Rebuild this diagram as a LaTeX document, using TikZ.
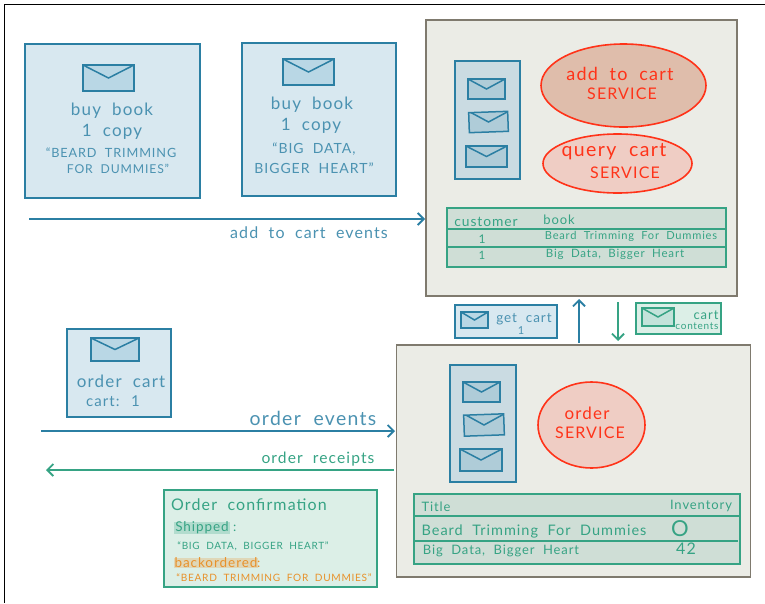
\documentclass[tikz,border=0pt]{standalone}
\usepackage{fontspec}
\setmainfont[LetterSpace=7,WordSpace=2]{Lato}
\usetikzlibrary{arrows.meta,shapes.geometric}

\definecolor{evblue}{HTML}{2B7FA3}
\definecolor{evbluefill}{HTML}{D8E8F0}
\definecolor{envfill}{HTML}{B9D7E5}
\definecolor{queuefill}{HTML}{CADBE2}
\definecolor{queueenv}{HTML}{AFCCD8}
\definecolor{evgreen}{HTML}{36A384}
\definecolor{greenfill}{HTML}{DCEFE7}
\definecolor{tablefill}{HTML}{CFDED6}
\definecolor{svcline}{HTML}{7F7A6E}
\definecolor{svcfill}{HTML}{EBECE6}
\definecolor{svcred}{HTML}{FF3319}
\definecolor{redfill}{HTML}{EFCDC4}
\definecolor{reddark}{HTML}{DFBDAB}
\definecolor{backorder}{HTML}{E8912A}

\tikzset{
  sized/.style n args={2}{minimum width=#1pt,minimum height=#2pt,inner sep=0pt},
  event/.style={draw=evblue,fill=evbluefill,line width=1.6pt},
  envelope/.style={draw=#1,fill=envfill,line width=1.5pt,
    path picture={\draw[#1,line width=1.5pt]
      (path picture bounding box.north west)
      -- (path picture bounding box.center)
      -- (path picture bounding box.north east);}},
  envelope/.default=evblue,
  queue/.style={draw=evblue,fill=queuefill,line width=1.4pt},
  service/.style={draw=svcline,fill=svcfill,line width=1.8pt},
  process/.style={ellipse,draw=svcred,line width=1.6pt,inner sep=0pt},
  store/.style={draw=evgreen,fill=tablefill,line width=1.4pt},
  lb/.style={text=evblue!85!white,inner sep=0pt},
  lg/.style={text=evgreen,inner sep=0pt},
  lr/.style={text=svcred,inner sep=0pt},
  blueflow/.style={draw=evblue,line width=1.8pt,-{Straight Barb[length=6pt,width=12pt]}},
  greenflow/.style={draw=evgreen,line width=1.8pt,-{Straight Barb[length=6pt,width=12pt]}},
}
\newcommand{\hs}[1]{\fontsize{#1}{#1}\selectfont}

\begin{document}
\begin{tikzpicture}[x=1pt,y=-1pt]
  \useasboundingbox (0,0) rectangle (765,603);
  \coordinate (framea) at (765,4);
  \coordinate (frameb) at (4,4);
  \coordinate (framec) at (4,603);
  \draw[black,line width=1pt] (framea) -- (frameb) -- (framec);

  % buy book events
  \node[event,sized={175}{154}] (buy1) at (112.5,121) {};
  \node[envelope,sized={51}{26}] (buy1env) at (108.5,78) {};
  \node[lb,font=\hs{17}] (buy1a) at (112,111) {buy book};
  \node[lb,font=\hs{17}] (buy1b) at (112,132) {1 copy};
  \node[lb,font=\hs{12.7}] (buy1c) at (111,153) {``BEARD TRIMMING};
  \node[lb,font=\hs{12.2}] (buy1d) at (118,169) {FOR DUMMIES''};

  \node[event,sized={154}{153}] (buy2) at (319,119.5) {};
  \node[envelope,sized={51}{26}] (buy2env) at (308.5,72) {};
  \node[lb,font=\hs{17}] (buy2a) at (312,105) {buy book};
  \node[lb,font=\hs{17}] (buy2b) at (311,126) {1 copy};
  \node[lb,font=\hs{14}] (buy2c) at (314,149) {``BIG DATA,};
  \node[lb,font=\hs{14}] (buy2d) at (314,168) {BIGGER HEART''};

  % add to cart service
  \node[service,sized={311}{276}] (cartsvc) at (581.5,158) {};
  \node[queue,sized={65}{118}] (cartq) at (487.5,120) {};
  \node[envelope,sized={37}{20},fill=queueenv] (cartq1) at (486.5,89) {};
  \node[envelope,sized={39}{20},fill=queueenv,rotate=2] (cartq2) at (488.5,122) {};
  \node[envelope,sized={41}{21},fill=queueenv] (cartq3) at (486.5,156.5) {};
  \node[process,fill=reddark,minimum width=165pt,minimum height=83pt] (addsvc) at (623.5,85.5) {};
  \node[lr,font=\hs{18}] (addsvca) at (620,74) {add to cart};
  \node[lr,font=\hs{16}] (addsvcb) at (622,94) {SERVICE};
  \node[process,fill=redfill,minimum width=149pt,minimum height=59pt] (querysvc) at (617.5,163.5) {};
  \node[lr,font=\hs{19.5}] (querysvca) at (614,152) {query cart};
  \node[lr,font=\hs{16}] (querysvcb) at (625,173) {SERVICE};

  % cart table
  \node[store,sized={279}{59}] (carttab) at (586.5,237.5) {};
  \coordinate (cartrowa) at (446,229);
  \coordinate (cartrowb) at (726,229);
  \coordinate (cartrowc) at (446,247);
  \coordinate (cartrowd) at (726,247);
  \draw[evgreen,line width=1.4pt] (cartrowa) -- (cartrowb);
  \draw[evgreen,line width=1.4pt] (cartrowc) -- (cartrowd);
  \node[lg,font=\hs{13.8}] (carth1) at (486,222) {customer};
  \node[lg,font=\hs{13}] (carth2) at (559,220) {book};
  \node[lg,font=\hs{12}] (cart1a) at (482,239) {1};
  \node[lg,font=\hs{11.1}] (cart1b) at (631,236) {Beard Trimming For Dummies};
  \node[lg,font=\hs{11.5}] (cart2a) at (482,255) {1};
  \node[lg,font=\hs{11.5}] (cart2b) at (615,254) {Big Data, Bigger Heart};

  % request and reply
  \node[event,sized={102}{33},line width=1.4pt] (getcart) at (506,321.5) {};
  \node[envelope,sized={27}{16}] (getcartenv) at (474.5,320) {};
  \node[lb,font=\hs{13.5}] (getcarta) at (524,319) {get cart};
  \node[lb,font=\hs{11}] (getcartb) at (521,331) {1};
  \node[draw=evgreen,fill=greenfill,line width=1.4pt,sized={85}{31}] (contents) at (678.5,318.5) {};
  \node[envelope=evgreen,fill=evgreen!30!white,sized={32}{18}] (contentsenv) at (658,317) {};
  \node[lg,font=\hs{13}] (contentsa) at (706,315) {cart};
  \node[lg,font=\hs{10}] (contentsb) at (697,326) {contents};

  % order service
  \node[service,sized={354}{232}] (ordersvc) at (573.5,461) {};
  \coordinate (getfrom) at (579,343);
  \coordinate (getto) at (579,299);
  \coordinate (replyfrom) at (618,302);
  \coordinate (replyto) at (618,341);
  \path (getfrom) edge[blueflow] (getto);
  \path (replyfrom) edge[greenflow] (replyto);
  \node[queue,sized={66}{117}] (orderq) at (483,423.5) {};
  \node[envelope,sized={37}{20},fill=queueenv] (orderq1) at (481.5,392) {};
  \node[envelope,sized={40}{21},fill=queueenv,rotate=2] (orderq2) at (484,425) {};
  \node[envelope,sized={42}{22},fill=queueenv] (orderq3) at (481,460) {};
  \node[process,fill=redfill,minimum width=107pt,minimum height=86pt] (ordsvc) at (591.5,425) {};
  \node[lr,font=\hs{17}] (ordsvca) at (587,413) {order};
  \node[lr,font=\hs{16}] (ordsvcb) at (590,433) {SERVICE};

  % inventory table
  \node[store,sized={326}{70}] (invtab) at (577,529) {};
  \coordinate (invrowa) at (414,516);
  \coordinate (invrowb) at (740,516);
  \coordinate (invrowc) at (414,541);
  \coordinate (invrowd) at (738,541);
  \draw[evgreen,line width=1.4pt] (invrowa) -- (invrowb);
  \draw[evgreen,line width=1.4pt] (invrowc) -- (invrowd);
  \node[lg,font=\hs{13}] (invh1) at (436,507) {Title};
  \node[lg,font=\hs{13}] (invh2) at (701,506) {Inventory};
  \node[lg,font=\hs{14.5}] (inv1a) at (534,531) {Beard Trimming For Dummies};
  \node[lg,font=\hs{22}] (inv1b) at (680,529) {O};
  \node[lg,font=\hs{13}] (inv2a) at (501,551) {Big Data, Bigger Heart};
  \node[lg,font=\hs{16}] (inv2b) at (686,549) {42};

  % top flow
  \coordinate (addfrom) at (29,219);
  \coordinate (addto) at (425,219);
  \path (addfrom) edge[blueflow] (addto);
  \node[lb,font=\hs{16}] (addlabel) at (309,233) {add to cart events};

  % order cart event
  \node[event,sized={104}{88},line width=1.4pt] (ordercart) at (119,373) {};
  \node[envelope,sized={48}{23}] (ordercartenv) at (115,349.5) {};
  \node[lb,font=\hs{17}] (ordercarta) at (121,381) {order cart};
  \node[lb,font=\hs{15}] (ordercartb) at (113,401) {cart: 1};

  % lower flows
  \coordinate (orderfrom) at (41,431);
  \coordinate (orderto) at (395,431);
  \coordinate (receiptfrom) at (394,470);
  \coordinate (receiptto) at (46,470);
  \path (orderfrom) edge[blueflow] (orderto);
  \path (receiptfrom) edge[greenflow] (receiptto);
  \node[lb,font=\hs{19.4}] (orderlabel) at (313,418) {order events};
  \node[lg,font=\hs{15.6}] (receiptlabel) at (318,459) {order receipts};

  % confirmation
  \node[draw=evgreen,fill=greenfill,line width=1.4pt,sized={213}{97}] (confirm) at (270.5,538.5) {};
  \node[lg,font=\hs{16}] (confirma) at (249,505) {Order confirmation};
  \node[lg,font=\hs{13.5},fill=evgreen!25!greenfill,inner ysep=0pt,inner xsep=1pt] (shipped) at (202,528) {Shipped};
  \node[lg,font=\hs{13},anchor=west] (shippedc) at (233,528) {:};
  \node[lg,font=\hs{10}] (shippedt) at (253,546) {``BIG DATA, BIGGER HEART''};
  \node[font=\hs{13.5},text=backorder,fill=backorder!25!greenfill,inner ysep=0pt,inner xsep=1pt] (backord) at (216,563) {backordered};
  \node[font=\hs{13},text=backorder,anchor=west,inner sep=0pt] (backordc) at (257,564) {:};
  \node[font=\hs{10.1},text=backorder,inner sep=0pt] (backordt) at (274,578) {``BEARD TRIMMING FOR DUMMIES''};
\end{tikzpicture}
\end{document}
